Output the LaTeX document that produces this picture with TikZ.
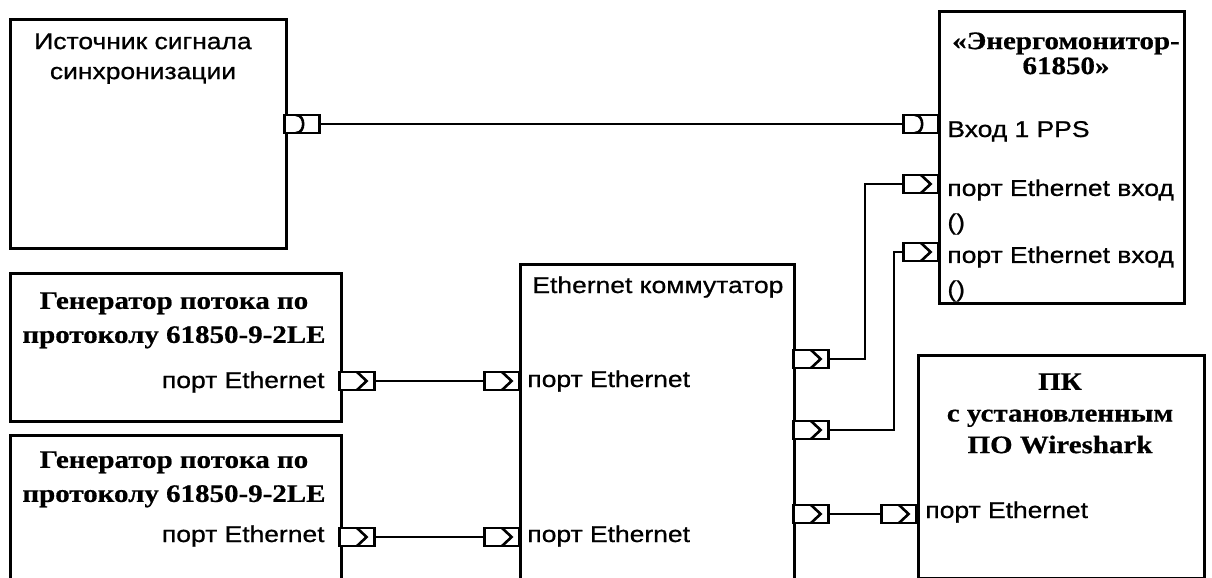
\documentclass[tikz,border=0pt]{standalone}
\usepackage{fontspec}
\setmainfont{Liberation Serif}[FakeStretch=1.15,FakeBold=0.6]
\setsansfont{Liberation Sans}[FakeStretch=1.16,FakeBold=0.8]
\usetikzlibrary{positioning,calc}

\begin{document}
\begin{tikzpicture}[x=0.5pt,y=-0.5pt,
  block/.style={draw,line width=1.4pt,inner sep=0pt,anchor=north west},
  wire/.style={line width=1pt},
  eth/.style={draw,line width=1.2pt,fill=white,minimum width=17.5pt,minimum height=9pt,inner sep=0pt,
    path picture={\draw[line width=1.3pt,shift={(path picture bounding box.center)}] (0pt,4.5pt) -- (4.8pt,0pt) -- (0pt,-4.5pt);}},
  pps/.style={draw,line width=1.2pt,fill=white,minimum width=17.5pt,minimum height=9pt,inner sep=0pt,
    path picture={\draw[line width=1.3pt,shift={(path picture bounding box.center)}] (-3pt,4.5pt) .. controls (1.8pt,4.5pt) and (1.8pt,-4.5pt) .. (-3pt,-4.5pt);}},
  title/.style={font=\bfseries\fontsize{12.6}{17}\selectfont,align=center,inner sep=0pt},
  lbl/.style={font=\sffamily\fontsize{11.4}{15}\selectfont,inner sep=0pt}]
\useasboundingbox (0,0) rectangle (1212,578);
\clip (0,0) rectangle (1212,578);
% blocks
\node[block,minimum width=138pt,minimum height=114.5pt] (sync) at (9,18) {};
\node[block,minimum width=122.5pt,minimum height=146pt] (energo) at (938,10) {};
\node[block,minimum width=165.5pt,minimum height=74pt] (gen1) at (9,272) {};
\node[block,minimum width=165.5pt,minimum height=80pt] (gen2) at (9,434) {};
\node[block,minimum width=137pt,minimum height=180pt] (switch) at (519,263) {};
\node[block,minimum width=143pt,minimum height=111.5pt] (pc) at (917,354) {};
% texts
\node[lbl,align=center,anchor=north] (synctxt) at (143,33) {Источник сигнала\\синхронизации};
\node[title,font=\bfseries\fontsize{12.6}{12.5}\selectfont,anchor=north] (energotxt) at (1066,32) {«Энергомонитор-\\61850»};
\node[title,anchor=north] (gen1txt) at (174,292) {Генератор потока по\\протоколу 61850-9-2LE};
\node[title,anchor=north] (gen2txt) at (174,451) {Генератор потока по\\протоколу 61850-9-2LE};
\node[title,font=\bfseries\fontsize{12.6}{15.8}\selectfont,anchor=north] (pctxt) at (1060,373) {ПК\\с установленным\\ПО Wireshark};
\node[lbl,anchor=base west] (swtxt) at (532,293) {Ethernet коммутатор};
\node[lbl,anchor=base west] (ppslbl) at (947,137) {Вход 1 PPS};
\node[lbl,font=\sffamily\fontsize{11.4}{17}\selectfont,align=left,anchor=north west] (emlblA) at (947,179) {порт Ethernet вход\\()};
\node[lbl,font=\sffamily\fontsize{11.4}{17}\selectfont,align=left,anchor=north west] (emlblB) at (947,246) {порт Ethernet вход\\()};
\node[lbl,anchor=base east] (g1lbl) at (325,388) {порт Ethernet};
\node[lbl,anchor=base east] (g2lbl) at (325,542) {порт Ethernet};
\node[lbl,anchor=base west] (swlbl1) at (527,387) {порт Ethernet};
\node[lbl,anchor=base west] (swlbl2) at (527,542) {порт Ethernet};
\node[lbl,anchor=base west] (pclbl) at (925,518) {порт Ethernet};
% ports
\node[pps] (syncout) at (302,124) {};
\node[pps] (ppsin) at (921,124) {};
\node[eth] (emA) at (921,184) {};
\node[eth] (emB) at (921,252) {};
\node[eth] (g1out) at (357,381) {};
\node[eth] (g2out) at (357,537) {};
\node[eth] (swin1) at (502,381) {};
\node[eth] (swin2) at (502,537) {};
\node[eth] (swA) at (811,359) {};
\node[eth] (swB) at (811,430) {};
\node[eth] (swC) at (811,514) {};
\node[eth] (pcin) at (899,514) {};
% links
\draw[wire] (syncout) -- (ppsin);
\draw[wire] (g1out) -- (swin1);
\draw[wire] (g2out) -- (swin2);
\draw[wire] (swA.east) -- ++(35,0) |- (emA);
\draw[wire] (swB.east) -- ++(64,0) |- (emB);
\draw[wire] (swC) -- (pcin);
\end{tikzpicture}
\end{document}
